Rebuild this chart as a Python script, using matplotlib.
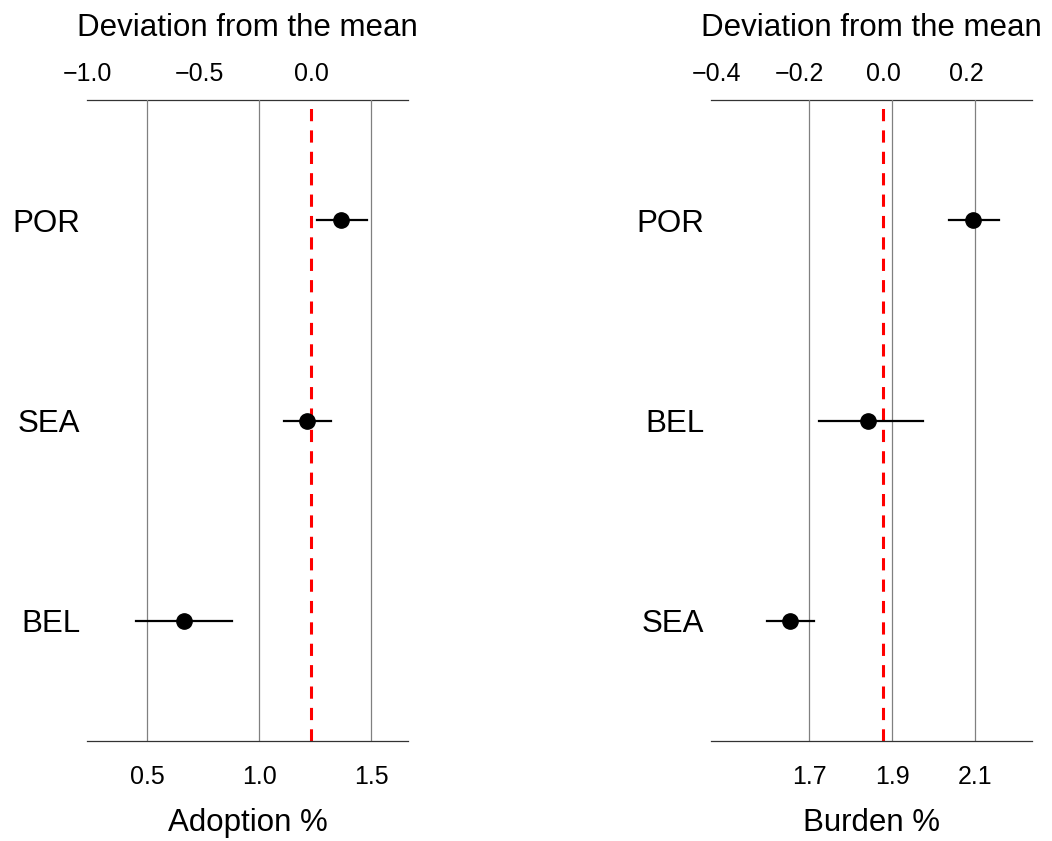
import matplotlib
matplotlib.use("Agg")
import matplotlib.pyplot as plt

plt.rcParams['font.family'] = ['Liberation Sans', 'DejaVu Sans']

# left panel: adoption
adopt_labels = ['BEL', 'SEA', 'POR']
adopt_est = [0.665, 1.214, 1.366]
adopt_lo = [0.451, 1.112, 1.259]
adopt_hi = [0.879, 1.321, 1.482]
adopt_mean = 1.232
adopt_ticks = [0.5, 1.0, 1.5]
adopt_dev_ticks = [-1.0, -0.5, 0.0]

# right panel: burden
burden_labels = ['SEA', 'BEL', 'POR']
burden_est = [1.654, 1.843, 2.095]
burden_lo = [1.599, 1.725, 2.037]
burden_hi = [1.712, 1.975, 2.158]
burden_mean = 1.878
burden_ticks = [1.7, 1.9, 2.1]
burden_dev_ticks = [-0.4, -0.2, 0.0, 0.2]


def panel(ax, labels, est, lo, hi, mean, ticks, dev_ticks, xlim, xlabel):
    y = list(range(1, len(labels) + 1))
    for t in ticks:
        ax.axvline(t, color='#808080', lw=0.9, zorder=1)
    ax.axvline(mean, color='red', lw=2.2, ls=(0, (4, 3)), zorder=2)
    for yi, e, l, h in zip(y, est, lo, hi):
        ax.plot([l, h], [yi, yi], color='black', lw=1.6, zorder=3)
    ax.plot(est, y, 'o', color='black', ms=11, zorder=4)

    ax.set_xlim(*xlim)
    ax.set_ylim(0.4, len(labels) + 0.6)
    ax.set_yticks(y)
    ax.set_yticklabels(labels)
    ax.set_xticks(ticks)
    ax.set_xticklabels(['%.1f' % t for t in ticks])
    ax.tick_params(axis='both', length=0)
    ax.tick_params(axis='x', pad=17, labelsize=18)
    ax.tick_params(axis='y', pad=5, labelsize=22.5)
    for s in ['left', 'right', 'top']:
        ax.spines[s].set_visible(False)
    ax.spines['bottom'].set_color('#333333')
    ax.spines['bottom'].set_linewidth(0.9)
    ax.set_xlabel(xlabel, fontsize=22.5, labelpad=14)

    sec = ax.secondary_xaxis('top', functions=(lambda x: x - mean, lambda x: x + mean))
    sec.set_xticks(dev_ticks)
    sec.set_xticklabels(['\u2212%.1f' % -t if t < 0 else '%.1f' % t for t in dev_ticks])
    sec.tick_params(length=0, labelsize=18, pad=10)
    sec.spines['top'].set_color('#333333')
    sec.spines['top'].set_linewidth(0.9)
    sec.set_xlabel('Deviation from the mean', fontsize=22.5, labelpad=19)


fig = plt.figure(figsize=(10.52, 8.41), dpi=100)
ax1 = fig.add_axes([0.0827, 0.1189, 0.3051, 0.7622])
ax2 = fig.add_axes([0.6759, 0.1189, 0.3051, 0.7622])

panel(ax1, adopt_labels, adopt_est, adopt_lo, adopt_hi, adopt_mean,
      adopt_ticks, adopt_dev_ticks, (0.232, 1.665), 'Adoption %')
panel(ax2, burden_labels, burden_est, burden_lo, burden_hi, burden_mean,
      burden_ticks, burden_dev_ticks, (1.464, 2.237), 'Burden %')

fig.savefig('out.png', dpi=100)
